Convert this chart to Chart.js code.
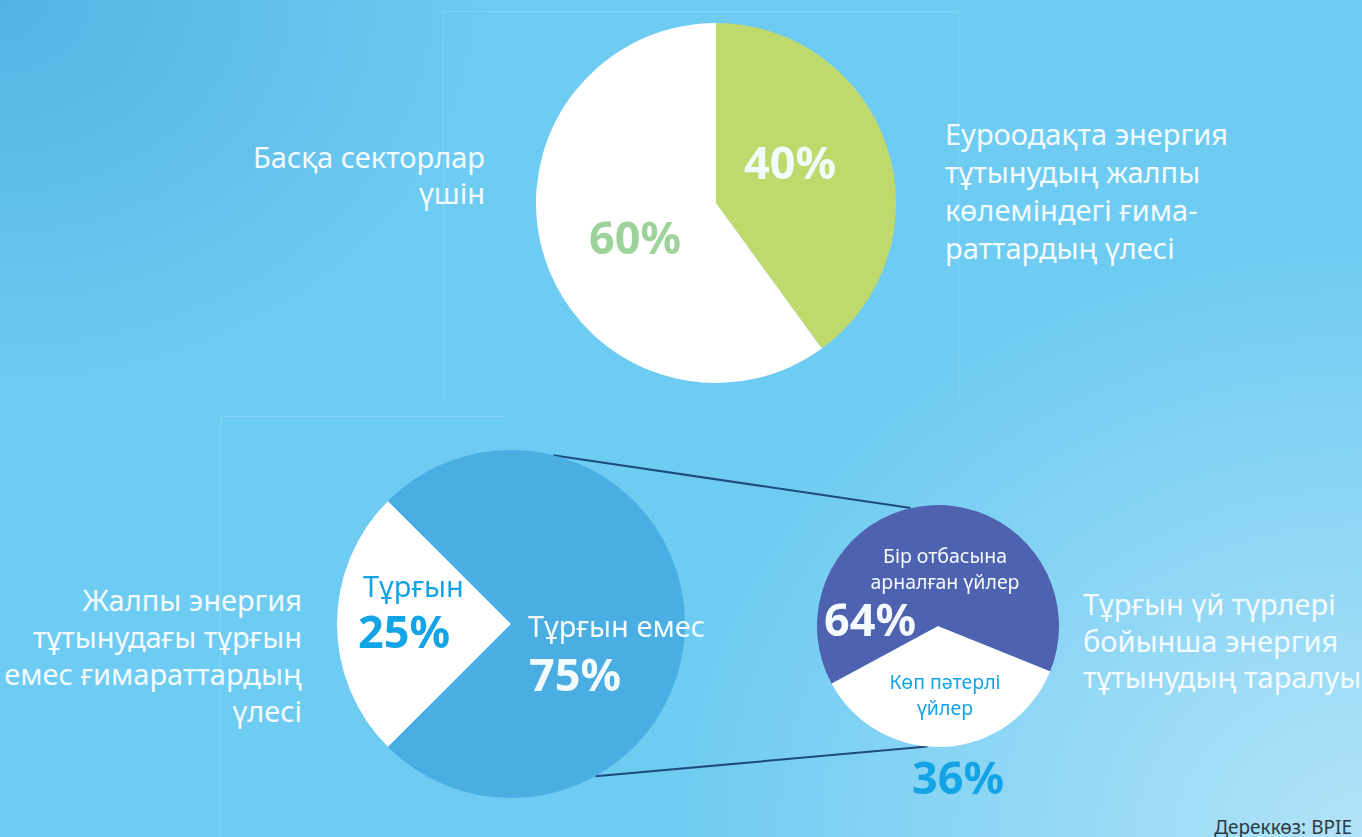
<!DOCTYPE html>
<html>
<head>
<meta charset="utf-8">
<script src="https://cdn.jsdelivr.net/npm/chart.js@4"></script>
<style>
  html, body { margin: 0; padding: 0; }
  body {
    width: 1362px; height: 837px; position: relative; overflow: hidden;
    font-family: "Noto Sans", "Open Sans", sans-serif;
    background:
      radial-gradient(ellipse 500px 400px at 0px 0px, rgba(60,160,215,0.55), rgba(60,160,215,0) 100%),
      radial-gradient(ellipse 700px 600px at 1362px 837px, rgba(200,235,250,0.75), rgba(200,235,250,0) 100%),
      #6ecbf2;
  }
  .box { position: absolute; }
  .t { position: absolute; color: #f4fbfe; font-size: 29px; line-height: 37px; white-space: nowrap; }
  .r { text-align: right; }
  .c { text-align: center; }
  .big { font-weight: 700; font-size: 45px; line-height: 50px; }
  .blue { color: #12a4e4; }
  .frame { position: absolute; border: 1px solid rgba(255,255,255,0.16); }
</style>
</head>
<body>
<div class="frame" style="left:443px; top:11px; width:514px; height:390px; border-bottom:none;"></div>
<div class="frame" style="left:220px; top:416px; width:283px; height:430px; border-right:none; border-bottom:none;"></div>

<svg id="links" width="1362" height="837" style="position:absolute; left:0; top:0;"></svg>

<div class="box" style="left:536px; top:23px; width:360px; height:360px;"><canvas id="pieTop"></canvas></div>
<div class="box" style="left:337px; top:450px; width:348px; height:348px;"><canvas id="pieLeft"></canvas></div>
<div class="box" style="left:817px; top:505px; width:242px; height:242px;"><canvas id="pieRight"></canvas></div>

<div class="t r" style="right:877px; top:139px; line-height:36px;">Басқа секторлар<br>үшін</div>
<div class="t" style="left:945px; top:115px; line-height:38px;">Еуроодақта энергия<br>тұтынудың жалпы<br>көлеміндегі ғима-<br>раттардың үлесі</div>
<div class="t big" id="lblTop0" style="left:744px; top:137px;"></div>
<div class="t big" id="lblTop1" style="left:589px; top:212px; color:#9dd39b;"></div>

<div class="t r" style="right:1060px; top:581px;">Жалпы энергия<br>тұтынудағы тұрғын<br>емес ғимараттардың<br>үлесі</div>
<div class="t blue" style="left:363px; top:567px;">Тұрғын</div>
<div class="t big blue" id="lblLeft0" style="left:358px; top:606px;"></div>
<div class="t" style="left:528px; top:607px;">Тұрғын емес</div>
<div class="t big" id="lblLeft1" style="left:529px; top:649px;"></div>

<div class="t c" style="left:865px; top:543px; width:160px; font-size:19.5px; line-height:26px;">Бір отбасына<br>арналған үйлер</div>
<div class="t big" id="lblRight0" style="left:824px; top:594px;"></div>
<div class="t c blue" style="left:865px; top:669px; width:160px; font-size:19.5px; line-height:26px;">Көп пәтерлі<br>үйлер</div>
<div class="t big blue" id="lblRight1" style="left:912px; top:752px;"></div>
<div class="t" style="left:1083px; top:586px; line-height:36.5px;">Тұрғын үй түрлері<br>бойынша энергия<br>тұтынудың таралуы</div>

<div class="t r" style="right:10px; top:815px; font-size:19px; line-height:24px; color:#2b3a44;">Дереккөз: BPIE</div>

<script>
// Үстіңгі диаграмма: ғимараттар / басқа секторлар
const topLabels = ['Ғимараттар', 'Басқа секторлар үшін'];
const topShare = [40, 60];

// Төменгі сол: тұрғын / тұрғын емес
const leftLabels = ['Тұрғын', 'Тұрғын емес'];
const leftShare = [25, 75];

// Төменгі оң: тұрғын үй түрлері
const rightLabels = ['Бір отбасына арналған үйлер', 'Көп пәтерлі үйлер'];
const rightShare = [64, 36];

function makePie(id, labels, data, colors, rotation) {
    return new Chart(document.getElementById(id), {
        type: 'pie',
        data: {
            labels: labels,
            datasets: [{
                data: data,
                backgroundColor: colors,
                borderWidth: 0
            }]
        },
        options: {
            responsive: true,
            maintainAspectRatio: false,
            animation: false,
            rotation: rotation,
            layout: { padding: 0 },
            plugins: { legend: { display: false }, tooltip: { enabled: false } }
        }
    });
}

const pieTop = makePie('pieTop', topLabels, topShare, ['#c0d96c', '#ffffff'], 0);
const pieLeft = makePie('pieLeft', [leftLabels[0], leftLabels[1]], [leftShare[0], leftShare[1]],
    ['#ffffff', '#4aaee3'], 225);
const pieRight = makePie('pieRight', [rightLabels[1], rightLabels[0]], [rightShare[1], rightShare[0]],
    ['#ffffff', '#4f62b0'], 112);

// пайыз жазулары
document.getElementById('lblTop0').textContent = topShare[0] + '%';
document.getElementById('lblTop1').textContent = topShare[1] + '%';
document.getElementById('lblLeft0').textContent = leftShare[0] + '%';
document.getElementById('lblLeft1').textContent = leftShare[1] + '%';
document.getElementById('lblRight0').textContent = rightShare[0] + '%';
document.getElementById('lblRight1').textContent = rightShare[1] + '%';

// екі дөңгелекті қосатын сызықтар
function edgePoint(chart, deg) {
    const arc = chart.getDatasetMeta(0).data[0];
    const box = chart.canvas.parentNode;
    const a = (deg - 90) * Math.PI / 180;
    return [box.offsetLeft + arc.x + arc.outerRadius * Math.cos(a),
            box.offsetTop + arc.y + arc.outerRadius * Math.sin(a)];
}
const svg = document.getElementById('links');
[[14, -13], [151, 185]].forEach(([a, b]) => {
    const p = edgePoint(pieLeft, a), q = edgePoint(pieRight, b);
    const ln = document.createElementNS('http://www.w3.org/2000/svg', 'line');
    ln.setAttribute('x1', p[0]); ln.setAttribute('y1', p[1]);
    ln.setAttribute('x2', q[0]); ln.setAttribute('y2', q[1]);
    ln.setAttribute('stroke', '#1d4c7c');
    ln.setAttribute('stroke-width', '2');
    svg.appendChild(ln);
});
</script>
</body>
</html>
